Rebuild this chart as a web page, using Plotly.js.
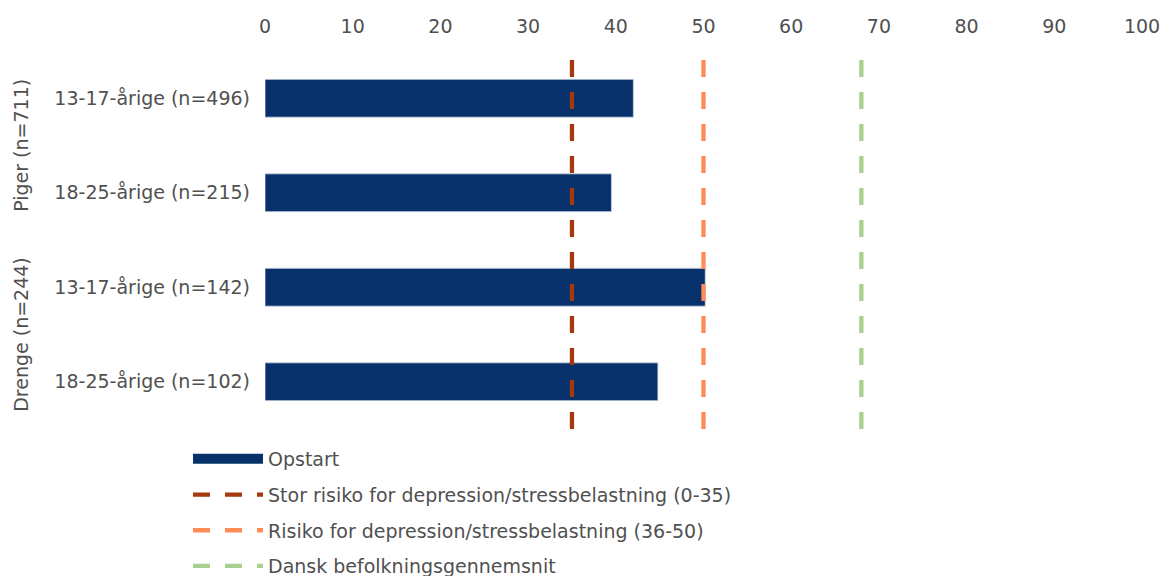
<!DOCTYPE html>
<html>
<head>
<meta charset="utf-8">
<script src="https://cdn.plot.ly/plotly-3.0.1.min.js"></script>
<style>html,body{margin:0;padding:0;background:#fff;}#chart{width:1170px;height:576px;}</style>
</head>
<body>
<div id="chart"></div>
<script>
var categories = ["13-17-årige (n=496)", "18-25-årige (n=215)", "13-17-årige (n=142)", "18-25-årige (n=102)"];
var groups = ["Piger (n=711)", "Drenge (n=244)"];
var opstart = [42.0, 39.5, 50.2, 44.8];
var thresholdNames = ["Stor risiko for depression/stressbelastning (0-35)", "Risiko for depression/stressbelastning (36-50)", "Dansk befolkningsgennemsnit"];
var thresholdValues = [35, 50, 68];
var xTicks = [0, 10, 20, 30, 40, 50, 60, 70, 80, 90, 100];

var FONT = "DejaVu Sans, Verdana, sans-serif";
var TXT = "#505050";
var FS = 19;
var barColor = "#06316B";
var lineColors = ["#A5380E", "#FF8B57", "#A9D08E"];

var traces = [];
traces.push({
  type: "bar", orientation: "h", y: categories, x: opstart, width: 0.4,
  marker: {color: barColor, line: {color: "#C9D3E2", width: 0.8}},
  showlegend: false, hoverinfo: "x+y", xaxis: "x", yaxis: "y"
});
traces.push({
  type: "scatter", mode: "lines", x: [null], y: [null], name: "Opstart", legendgroup: "g0",
  line: {color: barColor, width: 10}, xaxis: "x", yaxis: "y2"
});
for (var i = 0; i < thresholdValues.length; i++) {
  traces.push({
    type: "scatter", mode: "lines", name: thresholdNames[i], legendgroup: "g" + (i + 1),
    x: [thresholdValues[i], thresholdValues[i]], y: [0, 1],
    line: {color: lineColors[i], width: 4.3, dash: "17px,15px"},
    xaxis: "x", yaxis: "y2"
  });
}

var layout = {
  width: 1170, height: 576,
  margin: {l: 265, r: 28, t: 51, b: 147, autoexpand: false},
  paper_bgcolor: "#fff", plot_bgcolor: "#fff",
  font: {family: FONT, size: FS, color: TXT},
  showlegend: true,
  legend: {
    orientation: "v", x: 188 / 1170, xref: "container", xanchor: "left",
    y: 1 - 440 / 576, yref: "container", yanchor: "top",
    font: {family: FONT, size: FS, color: TXT},
    itemwidth: 70, bgcolor: "rgba(0,0,0,0)", traceorder: "grouped", tracegroupgap: 8
  },
  xaxis: {
    side: "top", range: [0, 100], tickvals: xTicks, ticktext: xTicks.map(String),
    showgrid: false, zeroline: false, showline: false, ticks: "",
    tickfont: {family: FONT, size: FS, color: TXT}, ticklabelstandoff: 13, fixedrange: true
  },
  yaxis: {
    type: "category", categoryorder: "array", categoryarray: categories,
    autorange: "reversed", showgrid: false, zeroline: false, showline: false, ticks: "",
    tickfont: {family: FONT, size: FS, color: TXT}, ticklabelstandoff: 14, fixedrange: true
  },
  yaxis2: {
    overlaying: "y", range: [0, 1], visible: false, fixedrange: true
  },
  annotations: [
    {text: groups[0], xref: "paper", yref: "paper", x: -0.279, xanchor: "center", y: 0.75, yanchor: "middle",
     textangle: -90, showarrow: false, font: {family: FONT, size: FS, color: TXT}},
    {text: groups[1], xref: "paper", yref: "paper", x: -0.279, xanchor: "center", y: 0.25, yanchor: "middle",
     textangle: -90, showarrow: false, font: {family: FONT, size: FS, color: TXT}}
  ]
};

Plotly.newPlot("chart", traces, layout, {displayModeBar: false, staticPlot: true});
</script>
</body>
</html>
